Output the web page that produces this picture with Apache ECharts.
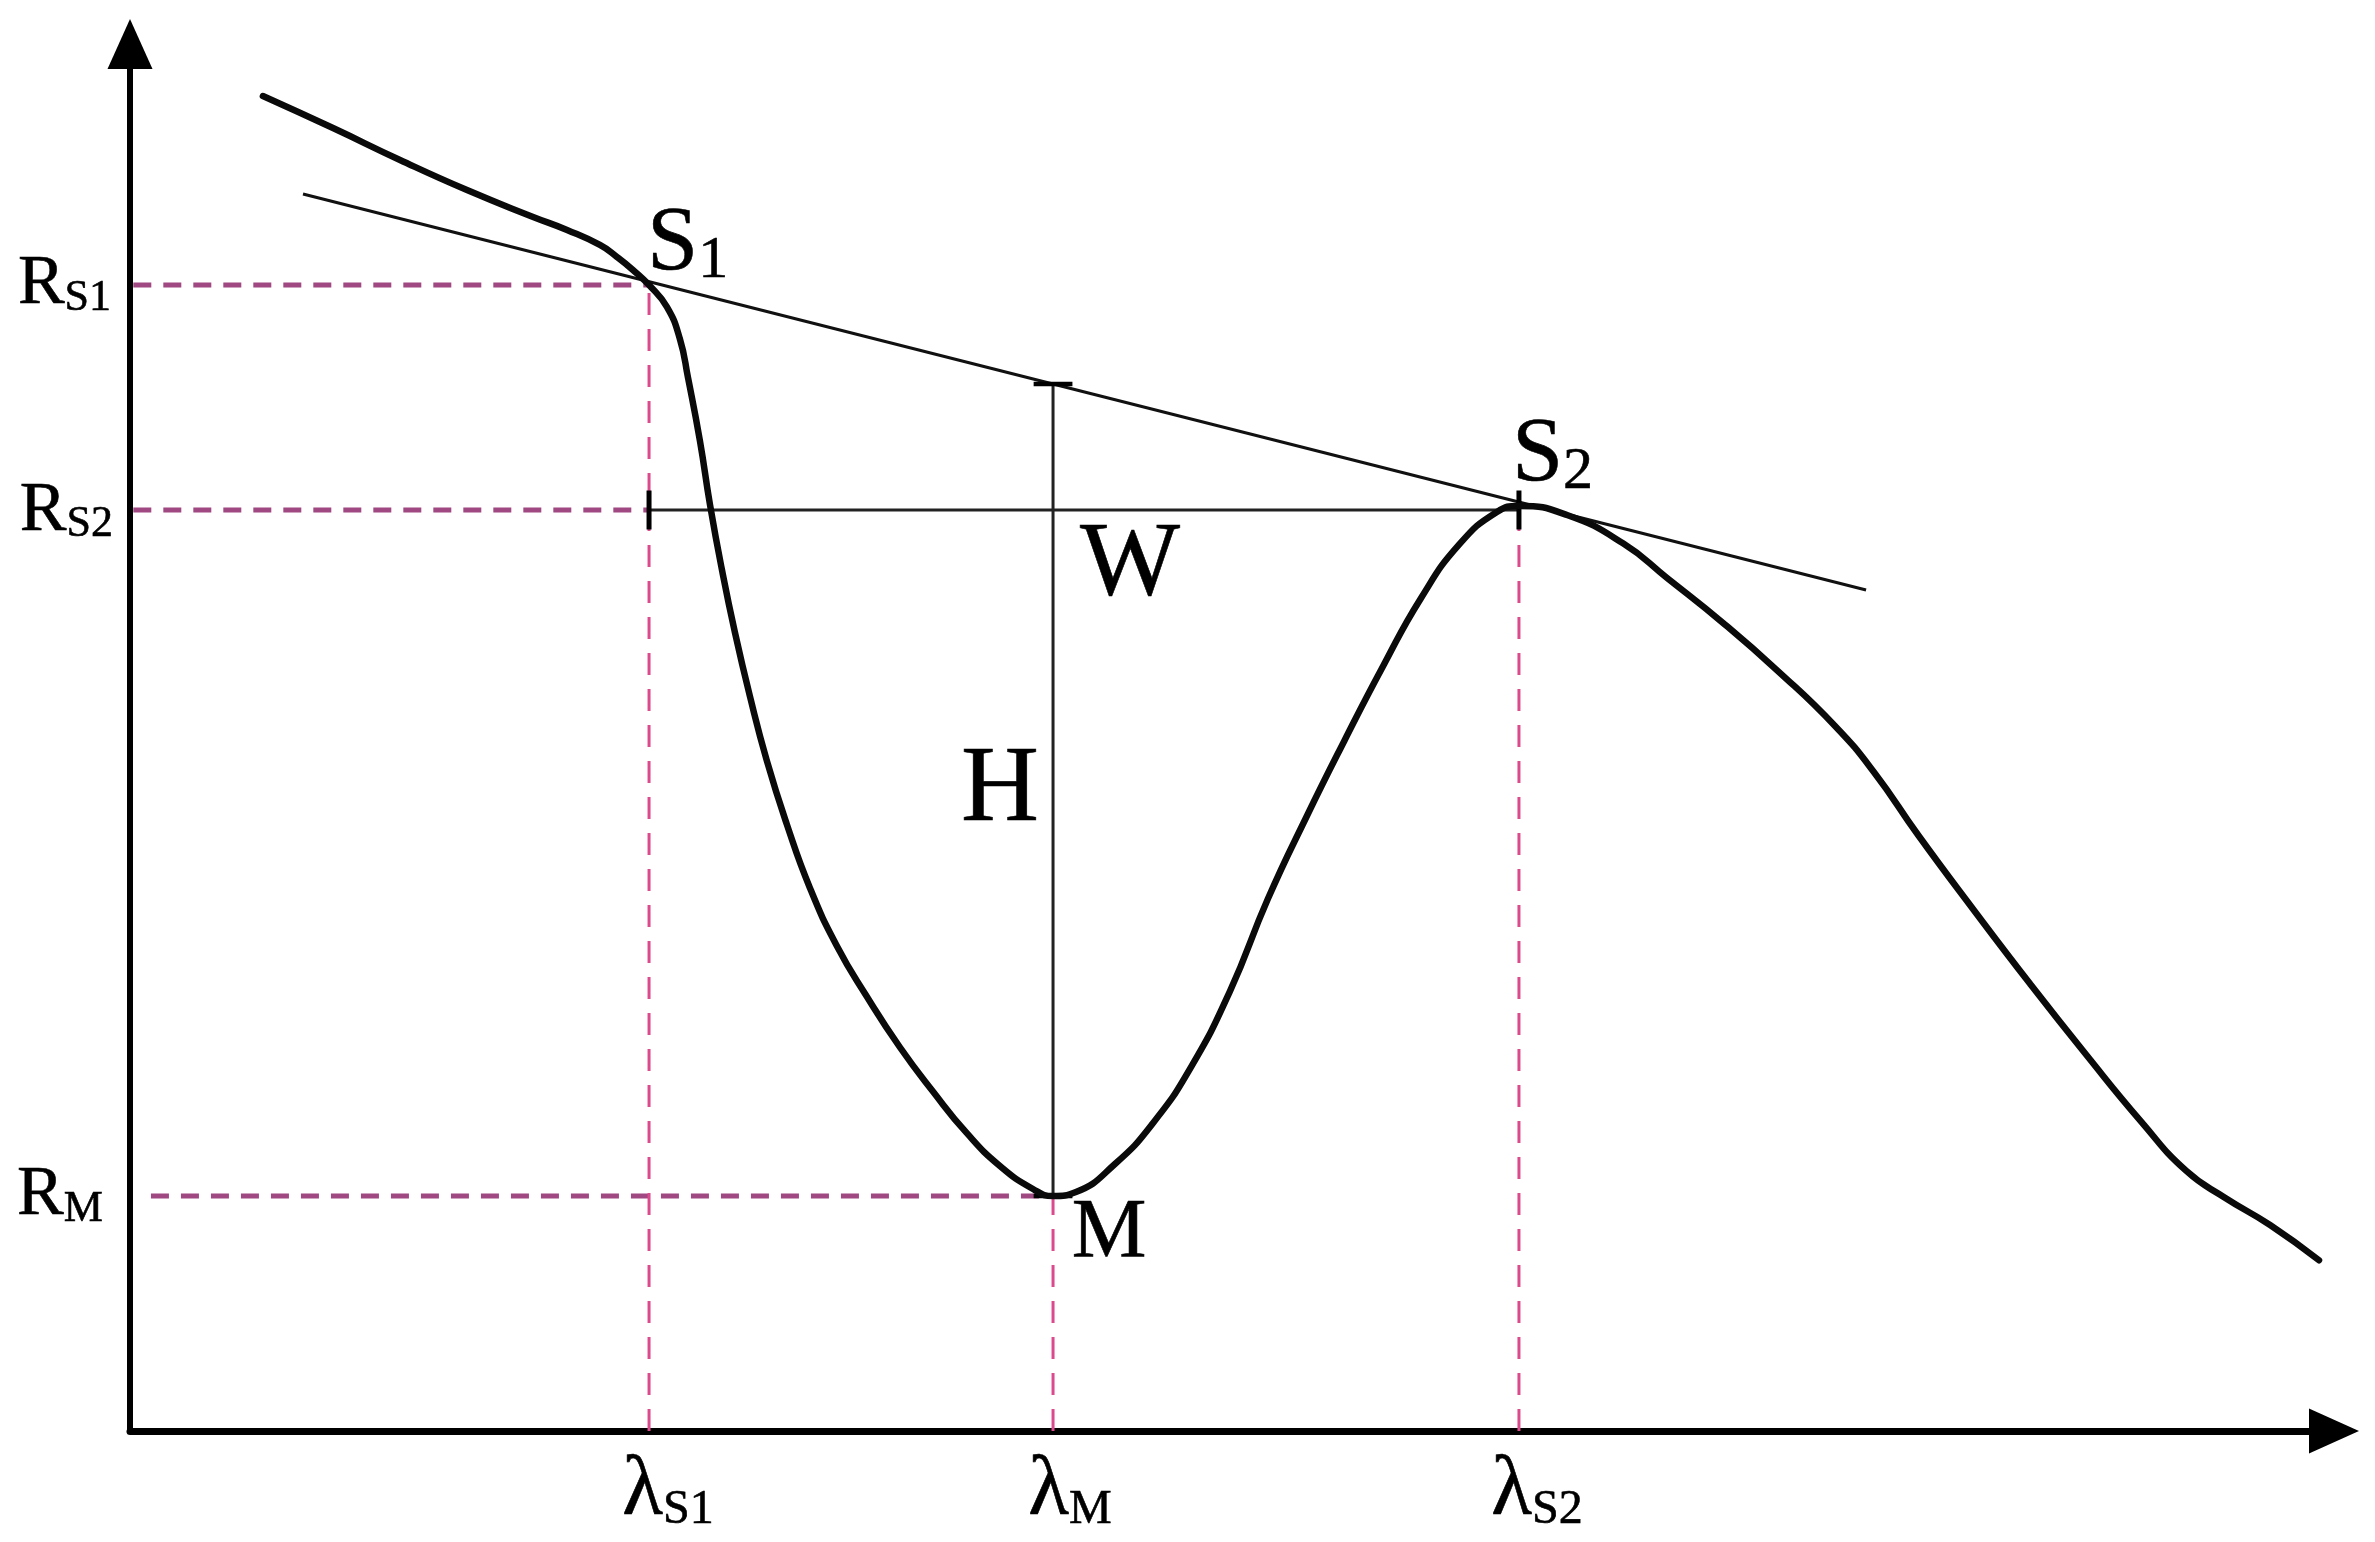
<!DOCTYPE html>
<html>
<head>
<meta charset="utf-8">
<script src="https://cdn.jsdelivr.net/npm/echarts@6/dist/echarts.min.js"></script>
<style>
html,body{margin:0;padding:0;background:#ffffff;}
#chart{width:2375px;height:1542px;}
</style>
</head>
<body>
<div id="chart"></div>
<script>
// ---- data (abstract wavelength / reflectance units) ----
const curveX = [6.03, 9.21, 12.25, 15.29, 18.29, 19.83, 21.32, 22.10, 22.82, 23.55, 24.36, 24.95, 25.32, 25.86, 26.32, 26.85, 27.45, 28.13, 28.89, 29.80, 30.85, 32.06, 33.43, 34.94, 36.45, 37.96, 39.47, 40.97, 41.88, 42.92, 44.69, 46.42, 48.14, 49.91, 51.63, 53.37, 55.10, 56.84, 58.58, 60.31, 62.02, 63.02, 65.20, 67.74, 69.74, 72.28, 74.82, 77.36, 79.13, 81.13, 83.68, 86.21, 88.74, 91.27, 93.30, 95.07, 97.10, 99.32];
const curveY = [96.25, 93.94, 91.64, 89.47, 87.53, 86.59, 85.51, 84.64, 83.71, 82.62, 81.04, 78.73, 75.92, 71.38, 66.75, 62.15, 57.55, 52.95, 48.35, 43.75, 39.15, 35.01, 31.33, 27.65, 24.44, 21.49, 19.11, 17.45, 16.94, 17.23, 19.25, 22.21, 26.24, 31.72, 38.37, 44.25, 49.77, 55.10, 60.06, 63.92, 66.26, 66.69, 66.04, 64.00, 61.50, 58.26, 54.72, 50.83, 47.50, 42.97, 37.51, 32.24, 27.16, 22.27, 18.75, 16.80, 14.85, 12.31];

const pointS1 = [23.55, 82.62];
const pointM = [41.88, 16.94];
const pointS2 = [63.02, 66.69];
const shoulderLevel = 66.4;          // R_S2 and W level
const tangentX = [7.85, 78.77];
const tangentY = [89.18, 60.63];
const hTopY = 75.48;                 // top of H (on the tangent line)
const dashStartRS = 0.15;            // where R_S1 / R_S2 dashes start
const dashStartRM = 0.95;            // where R_M dashes start
const tickHalfY = 1.4;               // half-length of vertical ticks on W
const tickHalfX = 0.88;              // half-length of horizontal ticks on H

const labelTexts = ['{r|R}{rs|S1}', '{r|R}{rs|S2}', '{r|R}{rs|M}', '{l|λ}{ls|S1}', '{l|λ}{ls|M}', '{l|λ}{ls|S2}', '{s|S}{sn|1}', '{s|S}{sn|2}', '{w|W}', '{h|H}', '{m|M}'];
const labelX = [-0.86, -0.77, -1.23, 24.41, 42.65, 63.84, 23.46, 62.70, 45.37, 39.47, 44.42];
const labelY = [82.62, 66.3, 16.94, -4.40, -4.40, -4.40, 85.50, 70.30, 62.36, 46.07, 14.13];
const labelAlign = ['right', 'right', 'right', 'center', 'center', 'center', 'left', 'left', 'center', 'center', 'center'];

// ---- styles ----
const FONT = "'Liberation Serif', 'Times New Roman', serif";
const INK = '#000000';
const dashH = { color: '#a04882', width: 5, type: [18, 12] };
const dashV = { color: '#dc4a8e', width: 3, type: [22, 14] };

function seg(xs, ys, style, z) {
  return {
    type: 'line', data: xs.map((x, i) => [x, ys[i]]),
    symbol: 'none', showSymbol: false, silent: true, animation: false,
    lineStyle: style, z: z || 2
  };
}

function richStyle(size) {
  return { fontFamily: FONT, fontSize: size, lineHeight: size, color: INK, verticalAlign: 'bottom', textBorderColor: INK, textBorderWidth: 0.6 };
}

const series = [
  // magenta guide lines
  seg([dashStartRS, pointS1[0]], [pointS1[1], pointS1[1]], dashH, 1),
  seg([dashStartRS, pointS1[0]], [shoulderLevel, shoulderLevel], dashH, 1),
  seg([dashStartRM, pointM[0]], [pointM[1], pointM[1]], dashH, 1),
  seg([pointS1[0], pointS1[0]], [0, pointS1[1]], dashV, 1),
  seg([pointM[0], pointM[0]], [0, pointM[1]], dashV, 1),
  seg([pointS2[0], pointS2[0]], [0, shoulderLevel], dashV, 1),
  // tangent (continuum) line
  seg(tangentX, tangentY, { color: '#111111', width: 3 }, 3),
  // W line
  seg([pointS1[0], pointS2[0]], [shoulderLevel, shoulderLevel], { color: '#222222', width: 3 }, 3),
  // H line
  seg([pointM[0], pointM[0]], [pointM[1], hTopY], { color: '#222222', width: 3 }, 3),
  // ticks
  seg([pointS1[0], pointS1[0]], [shoulderLevel - tickHalfY, shoulderLevel + tickHalfY], { color: INK, width: 5 }, 4),
  seg([pointS2[0], pointS2[0]], [shoulderLevel - tickHalfY, shoulderLevel + tickHalfY], { color: INK, width: 5 }, 4),
  seg([pointM[0] - tickHalfX, pointM[0] + tickHalfX], [hTopY, hTopY], { color: INK, width: 4.5 }, 4),
  seg([pointM[0] - tickHalfX, pointM[0] + tickHalfX], [pointM[1], pointM[1]], { color: INK, width: 4.5 }, 4),
  // spectrum curve
  {
    type: 'line', data: curveX.map((x, i) => [x, curveY[i]]),
    smooth: 0.5, symbol: 'none', showSymbol: false, silent: true, animation: false,
    lineStyle: { color: '#0a0a0a', width: 6.5, cap: 'round', join: 'round' }, z: 5
  },
  // text labels
  {
    type: 'scatter', symbolSize: 0, silent: true, animation: false, clip: false, z: 6,
    itemStyle: { opacity: 1 },
    data: labelTexts.map((t, i) => ({
      value: [labelX[i], labelY[i]],
      label: {
        show: true, position: [0, 0], formatter: t, opacity: 1,
        align: labelAlign[i], verticalAlign: 'middle',
        fontFamily: FONT, color: INK,
        rich: {
          r: richStyle(70), rs: richStyle(44),
          l: richStyle(84), ls: richStyle(48),
          s: richStyle(92), sn: richStyle(60),
          w: richStyle(106), h: richStyle(108), m: richStyle(84)
        }
      }
    }))
  }
];

const chart = echarts.init(document.getElementById('chart'), null, { renderer: 'canvas' });
chart.setOption({
  animation: false,
  backgroundColor: '#ffffff',
  grid: { left: 130, right: 41, top: 44, bottom: 111, containLabel: false },
  xAxis: {
    type: 'value', min: 0, max: 100,
    axisLine: { show: true, onZero: true, symbol: ['none', 'triangle'], symbolSize: [45, 50], lineStyle: { color: INK, width: 7 } },
    axisTick: { show: false }, axisLabel: { show: false }, splitLine: { show: false }
  },
  yAxis: {
    type: 'value', min: 0, max: 100,
    axisLine: { show: true, onZero: true, symbol: ['none', 'triangle'], symbolSize: [45, 50], lineStyle: { color: INK, width: 6 } },
    axisTick: { show: false }, axisLabel: { show: false }, splitLine: { show: false }
  },
  series: series
});
</script>
</body>
</html>
